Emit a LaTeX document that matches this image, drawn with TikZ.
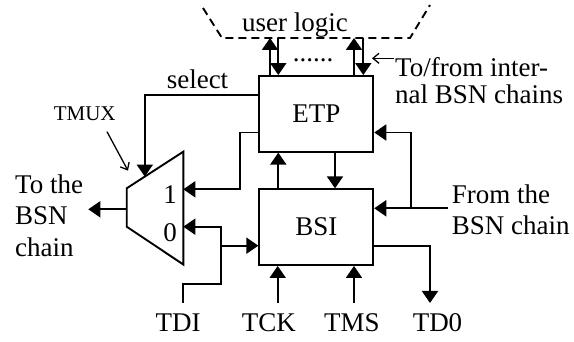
\documentclass[tikz,border=0pt]{standalone}
\usepackage{fontspec}
\setmainfont{Liberation Serif}
\usetikzlibrary{arrows.meta,calc}
\begin{document}
\begin{tikzpicture}[x=1pt,y=-1pt,
  wire/.style={line width=1.9pt},
  arr/.style={wire,-{Triangle[length=12pt,width=16pt]}},
  pointer/.style={line width=1.3pt,-{Straight Barb[length=6pt,width=10pt]}},
  blk/.style={draw,line width=1.9pt,minimum width=114pt,minimum height=75.7pt,inner sep=0pt,font=\fontsize{27}{28}\selectfont},
  lbl/.style={inner sep=0pt,font=\fontsize{27}{28}\selectfont},
  small/.style={inner sep=0pt,font=\fontsize{21}{22}\selectfont}]
\useasboundingbox (0,0) rectangle (574,342);
% blocks
\node[blk] (etp) at (316.3,113.85) {ETP};
\node[blk] (bsi) at (316.3,227.15) {BSI};
% mux
\coordinate (m1) at (183.3,151.7);
\coordinate (m2) at (126.7,188.3);
\coordinate (m3) at (126.7,226.7);
\coordinate (m4) at (183.3,264.5);
\draw[wire] (m1) -- (m2) -- (m3) -- (m4) -- cycle;
\coordinate (msel) at ($(m2)!0.32!(m1)$);
\coordinate (mout) at (126.7,209.3);
\coordinate (toleft) at (88.3,209.3);
\node[lbl,anchor=base] (one) at (170,203.3) {1};
\node[lbl,anchor=base] (zero) at (170,241.7) {0};
% rows
\coordinate (ysel) at (0,95);
\coordinate (yetpin) at (0,132.5);
\coordinate (yone) at (0,189.3);
\coordinate (yzero) at (0,226.7);
\coordinate (yfrom) at (0,208.3);
\coordinate (ybsiin) at (0,245.7);
\coordinate (ytdo) at (0,246);
\coordinate (ytdi) at (0,284.3);
\coordinate (ybot) at (0,303);
% columns
\coordinate (x1) at (240,0);
\coordinate (xj) at (221,0);
\coordinate (xtdi) at (182.7,0);
\coordinate (xtck) at (277.7,0);
\coordinate (xtms) at (354,0);
\coordinate (xtdo) at (430,0);
\coordinate (xr) at (411,0);
\coordinate (xfrom) at (448,0);
\coordinate (xa) at (278.3,0);
\coordinate (xb) at (335,0);
% user logic boundary
\coordinate (da) at (203,8);
\coordinate (db) at (222,38);
\coordinate (dc) at (410,38);
\coordinate (dd) at (430,5);
\draw[wire,dash pattern=on 8pt off 5pt] (da) -- (db) -- (dc) -- (dd);
\node[lbl,anchor=base] (ul) at (295,31.7) {user logic};
\node[lbl,anchor=base] (dots) at (313,61.5) {......};
\coordinate (u1) at (270,38);
\coordinate (v1) at (278.3,38);
\coordinate (u2) at (354,38);
\coordinate (v2) at (363.3,38);
\draw[arr] (u1 |- etp.north) -- (u1);
\draw[arr] (v1) -- (v1 |- etp.north);
\draw[arr] (u2 |- etp.north) -- (u2);
\draw[arr] (v2) -- (v2 |- etp.north);
% to/from label
\coordinate (pa) at (394,58.3);
\coordinate (pb) at (372,58.3);
\draw[pointer] (pa) -- (pb);
\node[lbl,anchor=base west] (tf1) at (395,76.7) {To/from inter-};
\node[lbl,anchor=base west] (tf2) at (395,103.3) {nal BSN chains};
% ETP <-> BSI
\draw[arr] (xa |- bsi.north) -- (xa |- etp.south);
\draw[arr] (xb |- etp.south) -- (xb |- bsi.north);
% from the BSN chain
\draw[arr] (xfrom |- yfrom) -- (bsi.east |- yfrom);
\draw[arr] (xr |- yfrom) -- (xr |- yetpin) -- (etp.east |- yetpin);
\node[lbl,anchor=base west] (fr1) at (451.7,204) {From the};
\node[lbl,anchor=base west] (fr2) at (451.7,235) {BSN chain};
% BSI out
\draw[arr] (bsi.east |- ytdo) -- (xtdo |- ytdo) -- (xtdo |- ybot);
% TCK TMS
\draw[arr] (xtck |- ybot) -- (xtck |- bsi.south);
\draw[arr] (xtms |- ybot) -- (xtms |- bsi.south);
% TDI
\draw[arr] (xtdi |- ybot) -- (xtdi |- ytdi) -- (xj |- ytdi) -- (xj |- yzero) -- (m1 |- yzero);
\draw[arr] (xj |- ybsiin) -- (bsi.west |- ybsiin);
% mux input 1 from ETP
\draw[arr] (etp.west |- yetpin) -- (x1 |- yetpin) -- (x1 |- yone) -- (m1 |- yone);
% select
\draw[arr] (etp.west |- ysel) -- (msel |- ysel) -- (msel);
\node[lbl,anchor=base] (sel) at (197.5,88.3) {select};
% mux out
\draw[arr] (mout) -- (toleft);
\node[lbl,anchor=base west] (tt1) at (15,193.3) {To the};
\node[lbl,anchor=base west] (tt2) at (15,225) {BSN};
\node[lbl,anchor=base west] (tt3) at (15,256.7) {chain};
% TMUX
\node[small,anchor=base] (tmux) at (84.7,120.7) {TMUX};
\coordinate (ta) at (107,131.7);
\coordinate (tb) at (128,170.7);
\draw[pointer] (ta) -- (tb);
% bottom labels
\node[lbl,anchor=base] (tdi) at (178,331.7) {TDI};
\node[lbl,anchor=base] (tck) at (268.8,331.7) {TCK};
\node[lbl,anchor=base] (tms) at (352,331.7) {TMS};
\node[lbl,anchor=base] (tdo) at (437.5,331.7) {TD0};
\end{tikzpicture}
\end{document}
